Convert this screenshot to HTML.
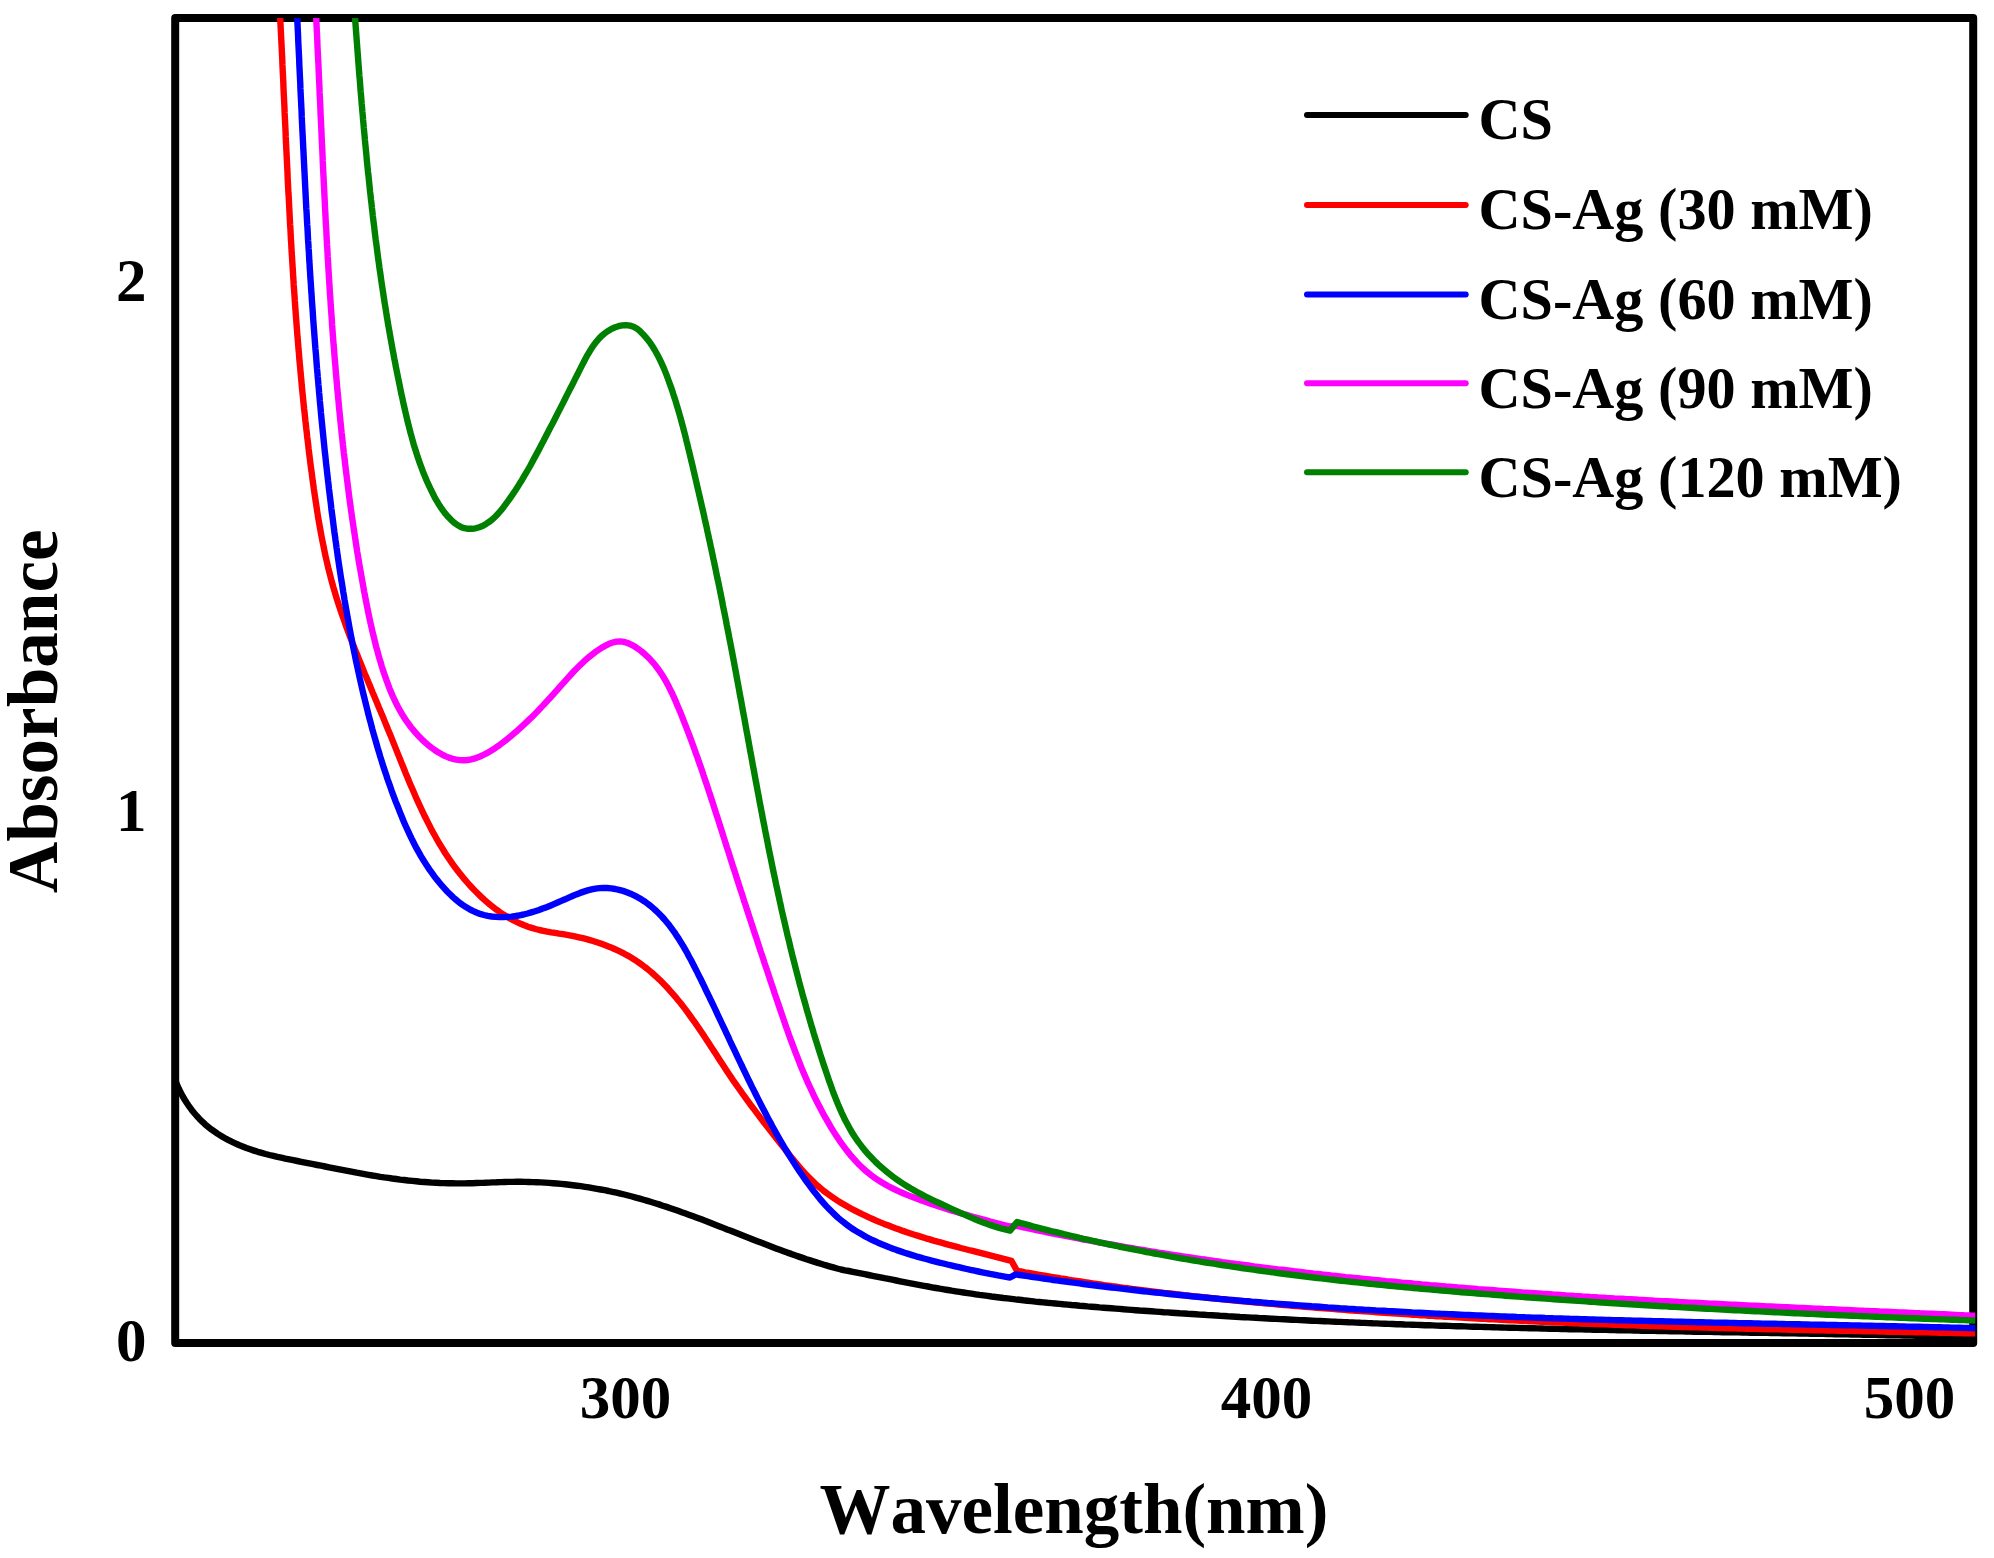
<!DOCTYPE html>
<html><head><meta charset="utf-8"><title>UV-Vis absorbance</title>
<style>
html,body{margin:0;padding:0;background:#fff;}
body{width:1994px;height:1558px;overflow:hidden;}
svg{display:block;}
text{font-family:"Liberation Serif","Times New Roman",serif;font-weight:bold;fill:#000;font-kerning:none;}
</style></head><body>
<svg width="1994" height="1558" viewBox="0 0 1994 1558">
<rect x="0" y="0" width="1994" height="1558" fill="#fff"/>
<defs><clipPath id="plot"><rect x="175.2" y="18.0" width="1800.0" height="1324.9"/></clipPath></defs>
<rect x="175.2" y="18.0" width="1798.0" height="1324.9" fill="none" stroke="#000" stroke-width="8.0" stroke-linejoin="round"/>
<g clip-path="url(#plot)" fill="none" stroke-width="6.4" stroke-linejoin="round" stroke-linecap="butt">
<path d="M171.0 1066.0L172.0 1070.0L173.2 1074.0L174.4 1077.9L175.9 1081.8L177.4 1085.6L179.1 1089.3L180.9 1092.9L182.8 1096.5L184.9 1100.0L187.0 1103.3L189.3 1106.7L191.7 1109.9L194.2 1113.0L196.8 1116.0L199.5 1118.9L202.3 1121.7L205.2 1124.4L208.3 1126.9L211.4 1129.4L214.6 1131.7L217.8 1133.9L221.2 1136.0L224.6 1138.0L228.1 1139.9L231.6 1141.7L235.3 1143.4L238.9 1145.0L242.6 1146.5L246.4 1148.0L250.1 1149.3L254.0 1150.6L257.8 1151.8L261.7 1152.9L265.6 1154.0L269.5 1155.0L273.4 1155.9L277.4 1156.9L281.3 1157.7L285.3 1158.6L289.3 1159.4L293.3 1160.2L297.3 1161.0L301.3 1161.8L305.2 1162.6L309.2 1163.4L313.2 1164.2L317.2 1165.0L321.1 1165.7L325.1 1166.5L329.0 1167.3L333.0 1168.1L336.9 1168.9L340.9 1169.7L344.8 1170.4L348.8 1171.2L352.7 1171.9L356.6 1172.7L360.6 1173.4L364.5 1174.1L368.5 1174.8L372.4 1175.5L376.4 1176.1L380.3 1176.8L384.3 1177.4L388.3 1177.9L392.2 1178.5L396.2 1179.0L400.2 1179.6L404.2 1180.0L408.2 1180.5L412.2 1180.9L416.2 1181.3L420.2 1181.7L424.2 1182.0L428.2 1182.3L432.2 1182.6L436.2 1182.8L440.2 1183.0L444.3 1183.1L448.3 1183.3L452.3 1183.3L456.3 1183.4L460.4 1183.4L464.4 1183.4L468.4 1183.3L472.4 1183.2L476.5 1183.0L480.5 1182.9L484.5 1182.8L488.6 1182.6L492.6 1182.4L496.6 1182.3L500.7 1182.1L504.7 1182.0L508.7 1181.9L512.8 1181.9L516.8 1181.8L520.8 1181.8L524.8 1181.9L528.9 1182.0L532.9 1182.1L536.9 1182.2L540.9 1182.4L544.9 1182.6L549.0 1182.9L553.0 1183.2L557.0 1183.5L561.0 1183.9L565.0 1184.3L569.0 1184.7L573.0 1185.2L577.0 1185.7L580.9 1186.2L584.9 1186.8L588.9 1187.4L592.8 1188.1L596.8 1188.8L600.7 1189.5L604.7 1190.2L608.6 1191.0L612.5 1191.9L616.5 1192.7L620.4 1193.6L624.3 1194.5L628.2 1195.5L632.0 1196.5L635.9 1197.6L639.8 1198.6L643.6 1199.7L647.5 1200.9L651.3 1202.0L655.2 1203.2L659.0 1204.4L662.8 1205.7L666.6 1206.9L670.4 1208.2L674.2 1209.5L678.0 1210.8L681.8 1212.2L685.6 1213.5L689.4 1214.9L693.2 1216.3L697.0 1217.7L700.7 1219.1L704.5 1220.6L708.3 1222.0L712.1 1223.5L715.8 1224.9L719.6 1226.4L723.3 1227.9L727.1 1229.4L730.9 1230.8L734.6 1232.3L738.4 1233.8L742.1 1235.3L745.9 1236.8L749.7 1238.2L753.4 1239.7L757.2 1241.2L760.9 1242.6L764.7 1244.1L768.5 1245.5L772.3 1247.0L776.0 1248.4L779.8 1249.8L783.6 1251.2L787.4 1252.6L791.2 1253.9L795.0 1255.3L798.8 1256.6L802.6 1257.9L806.4 1259.2L810.2 1260.4L814.0 1261.6L817.9 1262.9L821.7 1264.0L825.5 1265.2L829.4 1266.3L833.3 1267.4L837.1 1268.5L841.0 1269.5L841.0 1269.5L844.9 1270.3L848.9 1271.0L852.8 1271.8L856.8 1272.6L860.7 1273.4L864.7 1274.2L868.6 1275.0L872.6 1275.8L876.5 1276.6L880.5 1277.4L884.4 1278.2L888.4 1278.9L892.3 1279.7L896.3 1280.5L900.2 1281.3L904.2 1282.1L908.1 1282.8L912.1 1283.6L916.0 1284.3L920.0 1285.1L923.9 1285.8L927.9 1286.5L931.9 1287.3L935.8 1288.0L939.8 1288.7L943.8 1289.3L947.7 1290.0L951.7 1290.7L955.7 1291.3L959.6 1291.9L963.6 1292.5L967.6 1293.1L971.6 1293.7L975.6 1294.3L979.5 1294.9L983.5 1295.4L987.5 1295.9L991.5 1296.5L995.5 1297.0L999.5 1297.5L1003.5 1298.0L1007.4 1298.4L1011.4 1298.9L1015.4 1299.4L1019.4 1299.8L1023.4 1300.3L1027.4 1300.7L1031.4 1301.1L1035.4 1301.6L1039.4 1302.0L1043.4 1302.4L1047.4 1302.8L1051.4 1303.1L1055.4 1303.5L1059.4 1303.9L1063.4 1304.3L1067.5 1304.6L1071.5 1305.0L1075.5 1305.3L1079.5 1305.7L1083.5 1306.0L1087.5 1306.4L1091.5 1306.7L1095.5 1307.0L1099.5 1307.4L1103.5 1307.7L1107.5 1308.0L1111.5 1308.3L1115.6 1308.6L1119.6 1308.9L1123.6 1309.3L1127.6 1309.6L1131.6 1309.9L1135.6 1310.2L1139.6 1310.5L1143.6 1310.7L1147.6 1311.0L1151.7 1311.3L1155.7 1311.6L1159.7 1311.9L1163.7 1312.2L1167.7 1312.4L1171.7 1312.7L1175.7 1313.0L1179.8 1313.3L1183.8 1313.5L1187.8 1313.8L1191.8 1314.0L1195.8 1314.3L1199.8 1314.6L1203.8 1314.8L1207.9 1315.1L1211.9 1315.3L1215.9 1315.5L1219.9 1315.8L1223.9 1316.0L1227.9 1316.3L1231.9 1316.5L1236.0 1316.7L1240.0 1317.0L1244.0 1317.2L1248.0 1317.4L1252.0 1317.6L1256.0 1317.8L1260.1 1318.1L1264.1 1318.3L1268.1 1318.5L1272.1 1318.7L1276.1 1318.9L1280.1 1319.1L1284.2 1319.3L1288.2 1319.5L1292.2 1319.7L1296.2 1319.9L1300.2 1320.1L1304.3 1320.3L1308.3 1320.5L1312.3 1320.7L1316.3 1320.9L1320.3 1321.0L1324.3 1321.2L1328.4 1321.4L1332.4 1321.6L1336.4 1321.8L1340.4 1321.9L1344.4 1322.1L1348.5 1322.3L1352.5 1322.4L1356.5 1322.6L1360.5 1322.8L1364.5 1322.9L1368.6 1323.1L1372.6 1323.3L1376.6 1323.4L1380.6 1323.6L1384.6 1323.7L1388.7 1323.9L1392.7 1324.0L1396.7 1324.2L1400.7 1324.3L1404.7 1324.5L1408.8 1324.6L1412.8 1324.7L1416.8 1324.9L1420.8 1325.0L1424.9 1325.2L1428.9 1325.3L1432.9 1325.4L1436.9 1325.6L1440.9 1325.7L1445.0 1325.8L1449.0 1325.9L1453.0 1326.1L1457.0 1326.2L1461.1 1326.3L1465.1 1326.4L1469.1 1326.6L1473.1 1326.7L1477.1 1326.8L1481.2 1326.9L1485.2 1327.0L1489.2 1327.1L1493.2 1327.2L1497.3 1327.4L1501.3 1327.5L1505.3 1327.6L1509.3 1327.7L1513.4 1327.8L1517.4 1327.9L1521.4 1328.0L1525.4 1328.1L1529.4 1328.2L1533.5 1328.3L1537.5 1328.4L1541.5 1328.5L1545.5 1328.6L1549.6 1328.7L1553.6 1328.8L1557.6 1328.9L1561.6 1329.0L1565.7 1329.1L1569.7 1329.2L1573.7 1329.2L1577.7 1329.3L1581.8 1329.4L1585.8 1329.5L1589.8 1329.6L1593.8 1329.7L1597.9 1329.8L1601.9 1329.9L1605.9 1329.9L1609.9 1330.0L1613.9 1330.1L1618.0 1330.2L1622.0 1330.3L1626.0 1330.4L1630.0 1330.4L1634.1 1330.5L1638.1 1330.6L1642.1 1330.7L1646.1 1330.8L1650.2 1330.8L1654.2 1330.9L1658.2 1331.0L1662.2 1331.1L1666.3 1331.1L1670.3 1331.2L1674.3 1331.3L1678.3 1331.4L1682.4 1331.4L1686.4 1331.5L1690.4 1331.6L1694.4 1331.7L1698.5 1331.7L1702.5 1331.8L1706.5 1331.9L1710.5 1331.9L1714.5 1332.0L1718.6 1332.1L1722.6 1332.2L1726.6 1332.2L1730.6 1332.3L1734.7 1332.4L1738.7 1332.4L1742.7 1332.5L1746.7 1332.6L1750.8 1332.7L1754.8 1332.7L1758.8 1332.8L1762.8 1332.9L1766.9 1332.9L1770.9 1333.0L1774.9 1333.1L1778.9 1333.1L1783.0 1333.2L1787.0 1333.3L1791.0 1333.4L1795.0 1333.4L1799.0 1333.5L1803.1 1333.6L1807.1 1333.6L1811.1 1333.7L1815.1 1333.8L1819.2 1333.9L1823.2 1333.9L1827.2 1334.0L1831.2 1334.1L1835.2 1334.2L1839.3 1334.2L1843.3 1334.3L1847.3 1334.4L1851.3 1334.5L1855.4 1334.5L1859.4 1334.6L1863.4 1334.7L1867.4 1334.8L1871.4 1334.8L1875.5 1334.9L1879.5 1335.0L1883.5 1335.1L1887.5 1335.2L1891.6 1335.2L1895.6 1335.3L1899.6 1335.4L1903.6 1335.5L1907.6 1335.6L1911.7 1335.6L1915.7 1335.7L1919.7 1335.8L1923.7 1335.9L1927.7 1336.0L1931.8 1336.1L1935.8 1336.2L1939.8 1336.3L1943.8 1336.3L1947.8 1336.4L1951.9 1336.5L1955.9 1336.6L1959.9 1336.7L1963.9 1336.8L1967.9 1336.9L1972.0 1337.0L1976.0 1337.1L1980.0 1337.2" stroke="#000000"/>
<path d="M279.3 0.0L279.5 4.0L279.7 8.0L279.9 12.0L280.1 16.0L280.3 20.1L280.5 24.1L280.7 28.1L280.9 32.1L281.1 36.1L281.3 40.1L281.5 44.1L281.7 48.1L281.9 52.2L282.1 56.2L282.3 60.2L282.4 64.2L282.6 68.2L282.8 72.2L283.0 76.2L283.2 80.2L283.4 84.3L283.5 88.3L283.7 92.3L283.9 96.3L284.1 100.3L284.3 104.3L284.5 108.3L284.6 112.4L284.8 116.4L285.0 120.4L285.2 124.4L285.4 128.4L285.6 132.4L285.7 136.4L285.9 140.5L286.1 144.5L286.3 148.5L286.5 152.5L286.7 156.5L286.9 160.5L287.1 164.5L287.3 168.5L287.5 172.6L287.6 176.6L287.8 180.6L288.0 184.6L288.2 188.6L288.4 192.6L288.7 196.6L288.9 200.6L289.1 204.7L289.3 208.7L289.5 212.7L289.7 216.7L289.9 220.7L290.1 224.7L290.4 228.7L290.6 232.7L290.8 236.8L291.0 240.8L291.3 244.8L291.5 248.8L291.7 252.8L292.0 256.8L292.2 260.8L292.5 264.8L292.7 268.8L293.0 272.8L293.2 276.8L293.5 280.9L293.7 284.9L294.0 288.9L294.3 292.9L294.6 296.9L294.8 300.9L295.1 304.9L295.4 308.9L295.7 312.9L296.0 316.9L296.3 320.9L296.6 324.9L296.9 328.9L297.2 332.9L297.5 336.9L297.9 340.9L298.2 344.9L298.5 348.9L298.9 352.9L299.2 356.9L299.5 360.9L299.9 364.9L300.3 368.9L300.6 372.9L301.0 376.9L301.4 380.9L301.7 384.9L302.1 388.9L302.5 392.9L302.9 396.9L303.3 400.9L303.7 404.9L304.1 408.9L304.6 412.9L305.0 416.9L305.4 420.9L305.9 424.9L306.3 428.9L306.8 432.9L307.2 436.9L307.7 440.9L308.2 444.9L308.6 448.9L309.1 452.8L309.6 456.8L310.1 460.8L310.6 464.8L311.1 468.8L311.7 472.8L312.2 476.8L312.7 480.8L313.3 484.7L313.8 488.7L314.4 492.7L315.0 496.7L315.6 500.7L316.2 504.6L316.8 508.6L317.4 512.6L318.0 516.6L318.7 520.5L319.4 524.5L320.1 528.4L320.8 532.4L321.5 536.3L322.3 540.3L323.1 544.2L323.9 548.2L324.7 552.1L325.5 556.0L326.4 559.9L327.3 563.8L328.2 567.7L329.2 571.6L330.2 575.5L331.2 579.4L332.3 583.3L333.3 587.1L334.5 591.0L335.6 594.8L336.8 598.7L338.0 602.5L339.2 606.3L340.5 610.1L341.8 613.9L343.1 617.7L344.5 621.5L345.8 625.3L347.2 629.1L348.6 632.8L350.0 636.6L351.5 640.4L352.9 644.1L354.4 647.9L355.9 651.6L357.4 655.3L358.9 659.1L360.4 662.8L361.9 666.5L363.4 670.2L364.9 673.9L366.5 677.6L368.0 681.3L369.6 685.0L371.1 688.7L372.6 692.4L374.2 696.1L375.7 699.8L377.3 703.5L378.8 707.2L380.4 710.9L381.9 714.6L383.5 718.3L385.0 722.1L386.5 725.8L388.0 729.5L389.6 733.2L391.1 736.9L392.6 740.7L394.1 744.4L395.6 748.1L397.1 751.9L398.6 755.6L400.1 759.3L401.6 763.1L403.1 766.8L404.6 770.5L406.1 774.3L407.7 778.0L409.2 781.7L410.8 785.4L412.4 789.1L414.0 792.8L415.6 796.5L417.2 800.2L418.9 803.8L420.6 807.5L422.3 811.1L424.0 814.7L425.8 818.3L427.6 821.9L429.4 825.4L431.2 829.0L433.1 832.5L435.1 836.0L437.0 839.5L439.0 843.0L441.1 846.4L443.2 849.8L445.3 853.2L447.5 856.5L449.7 859.8L452.0 863.1L454.3 866.3L456.7 869.5L459.2 872.7L461.7 875.8L464.2 878.9L466.9 882.0L469.5 885.0L472.3 888.0L475.1 890.9L478.0 893.8L480.9 896.6L483.9 899.4L487.0 902.1L490.1 904.7L493.3 907.2L496.5 909.7L499.8 912.1L503.1 914.3L506.6 916.4L510.0 918.5L513.5 920.4L517.1 922.1L520.7 923.8L524.3 925.3L528.0 926.7L531.8 927.9L535.6 929.0L539.4 930.0L543.3 930.8L547.2 931.6L551.1 932.3L555.0 932.9L559.0 933.6L563.0 934.2L567.0 934.9L570.9 935.6L574.9 936.4L578.9 937.3L582.8 938.2L586.7 939.2L590.7 940.3L594.5 941.5L598.4 942.7L602.2 944.1L606.0 945.5L609.7 946.9L613.4 948.5L617.1 950.2L620.7 951.9L624.2 953.7L627.7 955.6L631.1 957.6L634.5 959.7L637.8 961.9L641.0 964.2L644.2 966.5L647.3 968.9L650.3 971.4L653.3 974.0L656.2 976.6L659.1 979.3L661.9 982.1L664.7 984.9L667.4 987.8L670.1 990.8L672.8 993.8L675.4 996.8L677.9 999.9L680.5 1003.0L682.9 1006.2L685.4 1009.4L687.8 1012.7L690.2 1016.0L692.6 1019.3L695.0 1022.6L697.3 1026.0L699.6 1029.3L701.9 1032.7L704.2 1036.1L706.4 1039.6L708.7 1043.0L710.9 1046.4L713.1 1049.9L715.4 1053.3L717.6 1056.7L719.8 1060.2L722.0 1063.6L724.3 1067.0L726.5 1070.4L728.7 1073.7L731.0 1077.1L733.2 1080.4L735.5 1083.7L737.8 1087.0L740.1 1090.2L742.4 1093.5L744.7 1096.7L747.0 1099.9L749.4 1103.1L751.7 1106.3L754.1 1109.4L756.5 1112.6L758.8 1115.7L761.2 1118.9L763.6 1122.0L766.0 1125.1L768.5 1128.3L770.9 1131.4L773.4 1134.5L775.8 1137.7L778.3 1140.8L780.8 1144.0L783.3 1147.1L785.8 1150.3L788.3 1153.4L790.8 1156.6L793.4 1159.8L795.9 1162.9L798.6 1166.0L801.2 1169.1L803.9 1172.1L806.7 1175.1L809.5 1178.0L812.3 1180.8L815.2 1183.6L818.2 1186.3L821.3 1188.9L824.4 1191.4L827.6 1193.8L830.9 1196.2L834.2 1198.4L837.5 1200.6L840.9 1202.7L844.4 1204.8L847.9 1206.8L851.4 1208.7L855.0 1210.6L858.5 1212.4L862.1 1214.2L865.8 1215.9L869.4 1217.6L873.1 1219.2L876.7 1220.8L880.4 1222.4L884.1 1223.9L887.9 1225.3L891.6 1226.8L895.4 1228.2L899.2 1229.5L902.9 1230.9L906.7 1232.2L910.6 1233.5L914.4 1234.7L918.2 1235.9L922.1 1237.1L925.9 1238.3L929.8 1239.4L933.6 1240.6L937.5 1241.7L941.4 1242.7L945.3 1243.8L949.2 1244.9L953.1 1245.9L957.0 1246.9L960.9 1248.0L964.8 1249.0L968.7 1250.0L972.6 1250.9L976.5 1251.9L980.4 1252.9L984.3 1253.9L988.2 1254.9L992.0 1255.9L995.9 1256.8L999.8 1257.8L1003.7 1258.8L1007.5 1259.8L1011.4 1260.8L1017.0 1270.8L1021.0 1271.5L1024.9 1272.3L1028.9 1273.0L1032.8 1273.7L1036.8 1274.4L1040.8 1275.1L1044.7 1275.7L1048.7 1276.4L1052.7 1277.1L1056.6 1277.7L1060.6 1278.4L1064.6 1279.0L1068.5 1279.7L1072.5 1280.3L1076.5 1280.9L1080.5 1281.5L1084.4 1282.1L1088.4 1282.7L1092.4 1283.3L1096.4 1283.9L1100.3 1284.5L1104.3 1285.1L1108.3 1285.6L1112.3 1286.2L1116.3 1286.7L1120.3 1287.3L1124.2 1287.8L1128.2 1288.3L1132.2 1288.9L1136.2 1289.4L1140.2 1289.9L1144.2 1290.4L1148.2 1290.9L1152.2 1291.4L1156.2 1291.9L1160.2 1292.4L1164.2 1292.9L1168.1 1293.3L1172.1 1293.8L1176.1 1294.3L1180.1 1294.7L1184.1 1295.2L1188.1 1295.6L1192.1 1296.1L1196.1 1296.5L1200.1 1296.9L1204.1 1297.3L1208.1 1297.8L1212.1 1298.2L1216.1 1298.6L1220.2 1299.0L1224.2 1299.4L1228.2 1299.8L1232.2 1300.2L1236.2 1300.6L1240.2 1301.0L1244.2 1301.4L1248.2 1301.7L1252.2 1302.1L1256.2 1302.5L1260.2 1302.9L1264.2 1303.2L1268.2 1303.6L1272.2 1303.9L1276.3 1304.3L1280.3 1304.7L1284.3 1305.0L1288.3 1305.3L1292.3 1305.7L1296.3 1306.0L1300.3 1306.4L1304.3 1306.7L1308.4 1307.0L1312.4 1307.3L1316.4 1307.7L1320.4 1308.0L1324.4 1308.3L1328.4 1308.6L1332.4 1308.9L1336.5 1309.3L1340.5 1309.6L1344.5 1309.9L1348.5 1310.2L1352.5 1310.5L1356.5 1310.8L1360.5 1311.1L1364.6 1311.4L1368.6 1311.6L1372.6 1311.9L1376.6 1312.2L1380.6 1312.5L1384.6 1312.8L1388.7 1313.1L1392.7 1313.3L1396.7 1313.6L1400.7 1313.9L1404.7 1314.1L1408.7 1314.4L1412.8 1314.7L1416.8 1314.9L1420.8 1315.2L1424.8 1315.4L1428.8 1315.7L1432.9 1315.9L1436.9 1316.2L1440.9 1316.4L1444.9 1316.7L1448.9 1316.9L1453.0 1317.1L1457.0 1317.4L1461.0 1317.6L1465.0 1317.8L1469.0 1318.1L1473.1 1318.3L1477.1 1318.5L1481.1 1318.7L1485.1 1318.9L1489.1 1319.2L1493.2 1319.4L1497.2 1319.6L1501.2 1319.8L1505.2 1320.0L1509.2 1320.2L1513.3 1320.4L1517.3 1320.6L1521.3 1320.8L1525.3 1321.0L1529.3 1321.2L1533.4 1321.4L1537.4 1321.6L1541.4 1321.7L1545.4 1321.9L1549.5 1322.1L1553.5 1322.3L1557.5 1322.5L1561.5 1322.6L1565.5 1322.8L1569.6 1323.0L1573.6 1323.2L1577.6 1323.3L1581.6 1323.5L1585.7 1323.6L1589.7 1323.8L1593.7 1324.0L1597.7 1324.1L1601.7 1324.3L1605.8 1324.4L1609.8 1324.6L1613.8 1324.7L1617.8 1324.9L1621.9 1325.0L1625.9 1325.2L1629.9 1325.3L1633.9 1325.4L1637.9 1325.6L1642.0 1325.7L1646.0 1325.8L1650.0 1326.0L1654.0 1326.1L1658.1 1326.2L1662.1 1326.4L1666.1 1326.5L1670.1 1326.6L1674.2 1326.7L1678.2 1326.8L1682.2 1327.0L1686.2 1327.1L1690.2 1327.2L1694.3 1327.3L1698.3 1327.4L1702.3 1327.5L1706.3 1327.6L1710.4 1327.8L1714.4 1327.9L1718.4 1328.0L1722.4 1328.1L1726.5 1328.2L1730.5 1328.3L1734.5 1328.4L1738.5 1328.5L1742.5 1328.6L1746.6 1328.7L1750.6 1328.8L1754.6 1328.9L1758.6 1329.0L1762.7 1329.1L1766.7 1329.2L1770.7 1329.2L1774.7 1329.3L1778.8 1329.4L1782.8 1329.5L1786.8 1329.6L1790.8 1329.7L1794.9 1329.8L1798.9 1329.9L1802.9 1330.0L1806.9 1330.0L1811.0 1330.1L1815.0 1330.2L1819.0 1330.3L1823.0 1330.4L1827.0 1330.5L1831.1 1330.5L1835.1 1330.6L1839.1 1330.7L1843.1 1330.8L1847.2 1330.9L1851.2 1330.9L1855.2 1331.0L1859.2 1331.1L1863.3 1331.2L1867.3 1331.3L1871.3 1331.3L1875.3 1331.4L1879.4 1331.5L1883.4 1331.6L1887.4 1331.7L1891.4 1331.7L1895.5 1331.8L1899.5 1331.9L1903.5 1332.0L1907.5 1332.0L1911.6 1332.1L1915.6 1332.2L1919.6 1332.3L1923.6 1332.4L1927.7 1332.4L1931.7 1332.5L1935.7 1332.6L1939.7 1332.7L1943.8 1332.8L1947.8 1332.8L1951.8 1332.9L1955.8 1333.0L1959.9 1333.1L1963.9 1333.2L1967.9 1333.2L1971.9 1333.3L1976.0 1333.4L1980.0 1333.5" stroke="#ff0000"/>
<path d="M296.4 0.0L296.6 4.0L296.8 8.0L297.0 12.0L297.1 16.0L297.3 20.0L297.5 24.0L297.7 28.0L297.9 32.1L298.1 36.1L298.2 40.1L298.4 44.1L298.6 48.1L298.8 52.1L299.0 56.1L299.2 60.1L299.3 64.1L299.5 68.1L299.7 72.1L299.9 76.1L300.1 80.2L300.3 84.2L300.4 88.2L300.6 92.2L300.8 96.2L301.0 100.2L301.2 104.2L301.4 108.2L301.6 112.2L301.7 116.2L301.9 120.3L302.1 124.3L302.3 128.3L302.5 132.3L302.7 136.3L302.9 140.3L303.1 144.3L303.3 148.3L303.5 152.3L303.7 156.3L303.9 160.3L304.1 164.4L304.3 168.4L304.5 172.4L304.7 176.4L304.9 180.4L305.1 184.4L305.3 188.4L305.5 192.4L305.7 196.4L305.9 200.4L306.1 204.4L306.3 208.5L306.6 212.5L306.8 216.5L307.0 220.5L307.2 224.5L307.5 228.5L307.7 232.5L307.9 236.5L308.1 240.5L308.4 244.5L308.6 248.5L308.9 252.5L309.1 256.5L309.3 260.6L309.6 264.6L309.8 268.6L310.1 272.6L310.3 276.6L310.6 280.6L310.9 284.6L311.1 288.6L311.4 292.6L311.7 296.6L311.9 300.6L312.2 304.6L312.5 308.6L312.8 312.6L313.0 316.6L313.3 320.6L313.6 324.6L313.9 328.6L314.2 332.6L314.5 336.6L314.8 340.6L315.1 344.6L315.4 348.6L315.8 352.6L316.1 356.6L316.4 360.6L316.7 364.6L317.0 368.6L317.4 372.6L317.7 376.6L318.1 380.6L318.4 384.6L318.8 388.6L319.1 392.6L319.5 396.6L319.8 400.6L320.2 404.6L320.6 408.6L320.9 412.6L321.3 416.6L321.7 420.6L322.1 424.6L322.5 428.6L322.9 432.6L323.3 436.6L323.7 440.5L324.1 444.5L324.5 448.5L324.9 452.5L325.4 456.5L325.8 460.5L326.2 464.5L326.7 468.5L327.1 472.5L327.6 476.5L328.0 480.4L328.5 484.4L328.9 488.4L329.4 492.4L329.9 496.4L330.4 500.4L330.9 504.3L331.3 508.3L331.8 512.3L332.4 516.3L332.9 520.3L333.4 524.3L333.9 528.2L334.4 532.2L335.0 536.2L335.5 540.2L336.1 544.1L336.6 548.1L337.2 552.1L337.7 556.1L338.3 560.0L338.9 564.0L339.5 568.0L340.1 571.9L340.7 575.9L341.3 579.9L342.0 583.8L342.6 587.8L343.2 591.8L343.9 595.7L344.5 599.7L345.2 603.6L345.9 607.6L346.6 611.5L347.3 615.5L348.0 619.4L348.7 623.4L349.4 627.3L350.2 631.3L350.9 635.2L351.7 639.2L352.4 643.1L353.2 647.0L354.0 651.0L354.8 654.9L355.6 658.8L356.4 662.8L357.3 666.7L358.1 670.6L359.0 674.5L359.8 678.4L360.7 682.3L361.6 686.3L362.5 690.2L363.4 694.1L364.4 698.0L365.3 701.9L366.3 705.8L367.3 709.7L368.2 713.6L369.2 717.5L370.3 721.3L371.3 725.2L372.3 729.1L373.4 733.0L374.5 736.8L375.6 740.7L376.7 744.5L377.8 748.4L379.0 752.2L380.1 756.1L381.3 759.9L382.5 763.7L383.7 767.6L385.0 771.4L386.3 775.2L387.5 779.0L388.9 782.8L390.2 786.5L391.5 790.3L392.9 794.1L394.3 797.8L395.7 801.6L397.2 805.3L398.7 809.0L400.2 812.8L401.7 816.5L403.2 820.2L404.8 823.9L406.4 827.5L408.1 831.2L409.8 834.8L411.5 838.4L413.3 842.0L415.1 845.6L417.0 849.1L419.0 852.6L420.9 856.1L423.0 859.5L425.1 862.9L427.3 866.3L429.5 869.6L431.9 872.9L434.2 876.2L436.7 879.4L439.3 882.5L441.9 885.7L444.6 888.7L447.4 891.7L450.3 894.6L453.2 897.4L456.3 900.0L459.4 902.6L462.6 904.9L465.9 907.1L469.3 909.1L472.8 910.9L476.4 912.5L480.1 913.9L483.9 915.0L487.7 915.9L491.6 916.5L495.6 916.9L499.6 917.1L503.6 917.1L507.6 916.9L511.7 916.6L515.7 916.0L519.6 915.3L523.6 914.5L527.5 913.5L531.3 912.4L535.1 911.3L539.0 910.0L542.7 908.6L546.5 907.2L550.2 905.7L553.9 904.1L557.6 902.5L561.3 900.9L565.1 899.3L568.8 897.6L572.5 896.0L576.3 894.4L580.1 892.9L583.9 891.6L587.7 890.4L591.6 889.4L595.5 888.6L599.4 888.1L603.3 887.9L607.3 888.0L611.3 888.4L615.2 889.0L619.1 889.9L623.0 890.9L626.8 892.2L630.5 893.7L634.1 895.4L637.6 897.2L641.0 899.1L644.2 901.2L647.4 903.5L650.5 905.9L653.4 908.4L656.3 911.0L659.1 913.7L661.8 916.5L664.5 919.5L667.0 922.5L669.5 925.6L671.9 928.8L674.3 932.1L676.5 935.5L678.8 938.9L680.9 942.4L683.1 945.9L685.1 949.4L687.2 953.0L689.1 956.7L691.1 960.3L693.0 964.0L694.9 967.7L696.8 971.4L698.6 975.1L700.5 978.8L702.3 982.5L704.1 986.1L705.8 989.8L707.6 993.5L709.4 997.1L711.1 1000.8L712.9 1004.4L714.6 1008.0L716.3 1011.7L718.0 1015.3L719.7 1018.9L721.4 1022.5L723.1 1026.1L724.8 1029.7L726.5 1033.3L728.2 1036.9L729.8 1040.5L731.5 1044.1L733.2 1047.7L734.9 1051.2L736.6 1054.8L738.3 1058.4L740.0 1062.0L741.7 1065.5L743.4 1069.1L745.1 1072.7L746.8 1076.2L748.5 1079.8L750.3 1083.3L752.0 1086.9L753.8 1090.4L755.6 1094.0L757.4 1097.6L759.2 1101.1L761.0 1104.7L762.8 1108.2L764.7 1111.8L766.5 1115.3L768.4 1118.9L770.3 1122.4L772.2 1126.0L774.2 1129.5L776.1 1133.0L778.1 1136.6L780.1 1140.1L782.2 1143.6L784.2 1147.1L786.3 1150.5L788.4 1154.0L790.6 1157.5L792.7 1160.9L794.9 1164.3L797.1 1167.7L799.4 1171.1L801.7 1174.5L804.0 1177.8L806.3 1181.1L808.7 1184.4L811.1 1187.7L813.6 1191.0L816.1 1194.1L818.6 1197.3L821.2 1200.4L823.8 1203.4L826.5 1206.4L829.3 1209.3L832.1 1212.1L835.0 1214.9L837.9 1217.6L840.9 1220.1L844.0 1222.6L847.1 1225.0L850.4 1227.3L853.6 1229.5L857.0 1231.6L860.4 1233.6L863.8 1235.6L867.3 1237.5L870.9 1239.3L874.5 1241.0L878.1 1242.7L881.8 1244.3L885.5 1245.8L889.2 1247.3L893.0 1248.7L896.8 1250.1L900.6 1251.4L904.5 1252.7L908.3 1253.9L912.2 1255.1L916.1 1256.3L920.0 1257.4L923.9 1258.5L927.8 1259.5L931.7 1260.6L935.6 1261.6L939.5 1262.6L943.4 1263.5L947.3 1264.5L951.2 1265.4L955.1 1266.3L959.0 1267.2L962.8 1268.1L966.7 1269.0L970.6 1269.9L974.5 1270.7L978.4 1271.5L982.3 1272.3L986.2 1273.1L990.1 1273.9L994.1 1274.6L998.0 1275.4L1002.0 1276.1L1006.0 1276.8L1010.0 1277.5L1015.7 1274.4L1019.7 1275.0L1023.7 1275.6L1027.7 1276.2L1031.6 1276.8L1035.6 1277.4L1039.6 1277.9L1043.6 1278.5L1047.6 1279.1L1051.6 1279.7L1055.6 1280.2L1059.6 1280.8L1063.5 1281.3L1067.5 1281.8L1071.5 1282.4L1075.5 1282.9L1079.5 1283.4L1083.5 1284.0L1087.5 1284.5L1091.5 1285.0L1095.5 1285.5L1099.5 1286.0L1103.5 1286.5L1107.5 1287.0L1111.5 1287.5L1115.5 1287.9L1119.5 1288.4L1123.5 1288.9L1127.5 1289.4L1131.5 1289.8L1135.5 1290.3L1139.5 1290.7L1143.5 1291.2L1147.5 1291.6L1151.5 1292.1L1155.5 1292.5L1159.5 1292.9L1163.5 1293.3L1167.5 1293.8L1171.5 1294.2L1175.5 1294.6L1179.5 1295.0L1183.5 1295.4L1187.5 1295.8L1191.5 1296.2L1195.5 1296.6L1199.5 1297.0L1203.5 1297.4L1207.5 1297.7L1211.5 1298.1L1215.5 1298.5L1219.6 1298.9L1223.6 1299.2L1227.6 1299.6L1231.6 1299.9L1235.6 1300.3L1239.6 1300.6L1243.6 1301.0L1247.6 1301.3L1251.6 1301.7L1255.6 1302.0L1259.7 1302.3L1263.7 1302.6L1267.7 1303.0L1271.7 1303.3L1275.7 1303.6L1279.7 1303.9L1283.7 1304.2L1287.7 1304.5L1291.8 1304.8L1295.8 1305.1L1299.8 1305.4L1303.8 1305.7L1307.8 1306.0L1311.8 1306.3L1315.9 1306.5L1319.9 1306.8L1323.9 1307.1L1327.9 1307.4L1331.9 1307.6L1335.9 1307.9L1340.0 1308.2L1344.0 1308.4L1348.0 1308.7L1352.0 1308.9L1356.0 1309.2L1360.1 1309.4L1364.1 1309.7L1368.1 1309.9L1372.1 1310.1L1376.1 1310.4L1380.2 1310.6L1384.2 1310.8L1388.2 1311.1L1392.2 1311.3L1396.2 1311.5L1400.3 1311.7L1404.3 1311.9L1408.3 1312.1L1412.3 1312.4L1416.3 1312.6L1420.4 1312.8L1424.4 1313.0L1428.4 1313.2L1432.4 1313.4L1436.5 1313.6L1440.5 1313.8L1444.5 1313.9L1448.5 1314.1L1452.6 1314.3L1456.6 1314.5L1460.6 1314.7L1464.6 1314.9L1468.6 1315.0L1472.7 1315.2L1476.7 1315.4L1480.7 1315.5L1484.7 1315.7L1488.8 1315.9L1492.8 1316.0L1496.8 1316.2L1500.8 1316.4L1504.9 1316.5L1508.9 1316.7L1512.9 1316.8L1517.0 1317.0L1521.0 1317.1L1525.0 1317.3L1529.0 1317.4L1533.1 1317.6L1537.1 1317.7L1541.1 1317.8L1545.1 1318.0L1549.2 1318.1L1553.2 1318.3L1557.2 1318.4L1561.2 1318.5L1565.3 1318.6L1569.3 1318.8L1573.3 1318.9L1577.4 1319.0L1581.4 1319.2L1585.4 1319.3L1589.4 1319.4L1593.5 1319.5L1597.5 1319.6L1601.5 1319.7L1605.6 1319.9L1609.6 1320.0L1613.6 1320.1L1617.6 1320.2L1621.7 1320.3L1625.7 1320.4L1629.7 1320.5L1633.8 1320.6L1637.8 1320.7L1641.8 1320.8L1645.8 1320.9L1649.9 1321.0L1653.9 1321.1L1657.9 1321.2L1662.0 1321.3L1666.0 1321.4L1670.0 1321.5L1674.0 1321.6L1678.1 1321.7L1682.1 1321.8L1686.1 1321.9L1690.2 1322.0L1694.2 1322.1L1698.2 1322.2L1702.2 1322.3L1706.3 1322.4L1710.3 1322.5L1714.3 1322.6L1718.4 1322.6L1722.4 1322.7L1726.4 1322.8L1730.4 1322.9L1734.5 1323.0L1738.5 1323.1L1742.5 1323.2L1746.6 1323.2L1750.6 1323.3L1754.6 1323.4L1758.6 1323.5L1762.7 1323.6L1766.7 1323.7L1770.7 1323.7L1774.7 1323.8L1778.8 1323.9L1782.8 1324.0L1786.8 1324.1L1790.9 1324.1L1794.9 1324.2L1798.9 1324.3L1802.9 1324.4L1807.0 1324.5L1811.0 1324.6L1815.0 1324.6L1819.0 1324.7L1823.1 1324.8L1827.1 1324.9L1831.1 1325.0L1835.2 1325.0L1839.2 1325.1L1843.2 1325.2L1847.2 1325.3L1851.3 1325.4L1855.3 1325.4L1859.3 1325.5L1863.3 1325.6L1867.4 1325.7L1871.4 1325.8L1875.4 1325.9L1879.4 1326.0L1883.5 1326.0L1887.5 1326.1L1891.5 1326.2L1895.5 1326.3L1899.6 1326.4L1903.6 1326.5L1907.6 1326.6L1911.6 1326.7L1915.7 1326.7L1919.7 1326.8L1923.7 1326.9L1927.7 1327.0L1931.7 1327.1L1935.8 1327.2L1939.8 1327.3L1943.8 1327.4L1947.8 1327.5L1951.9 1327.6L1955.9 1327.7L1959.9 1327.8L1963.9 1327.9L1967.9 1328.0L1972.0 1328.1L1976.0 1328.2L1980.0 1328.3" stroke="#0000ff"/>
<path d="M315.3 0.0L315.5 4.0L315.7 8.0L315.9 12.0L316.1 16.0L316.3 20.0L316.5 24.0L316.7 28.0L316.9 32.1L317.1 36.1L317.3 40.1L317.4 44.1L317.6 48.1L317.8 52.1L318.0 56.1L318.2 60.1L318.4 64.1L318.6 68.1L318.7 72.1L318.9 76.2L319.1 80.2L319.3 84.2L319.5 88.2L319.6 92.2L319.8 96.2L320.0 100.2L320.2 104.2L320.4 108.3L320.5 112.3L320.7 116.3L320.9 120.3L321.1 124.3L321.3 128.3L321.5 132.3L321.6 136.3L321.8 140.4L322.0 144.4L322.2 148.4L322.4 152.4L322.6 156.4L322.7 160.4L322.9 164.4L323.1 168.5L323.3 172.5L323.5 176.5L323.7 180.5L323.9 184.5L324.1 188.5L324.3 192.5L324.5 196.5L324.7 200.6L324.9 204.6L325.1 208.6L325.3 212.6L325.5 216.6L325.7 220.6L325.9 224.6L326.2 228.6L326.4 232.7L326.6 236.7L326.8 240.7L327.0 244.7L327.3 248.7L327.5 252.7L327.7 256.7L328.0 260.7L328.2 264.7L328.4 268.8L328.7 272.8L328.9 276.8L329.2 280.8L329.4 284.8L329.7 288.8L329.9 292.8L330.2 296.8L330.5 300.8L330.7 304.8L331.0 308.8L331.3 312.8L331.6 316.9L331.9 320.9L332.1 324.9L332.4 328.9L332.7 332.9L333.0 336.9L333.3 340.9L333.6 344.9L334.0 348.9L334.3 352.9L334.6 356.9L334.9 360.9L335.3 364.9L335.6 368.9L335.9 372.9L336.3 376.9L336.6 380.9L337.0 384.9L337.3 388.9L337.7 392.9L338.1 396.9L338.5 400.9L338.8 404.9L339.2 408.9L339.6 412.9L340.0 416.9L340.4 420.8L340.8 424.8L341.2 428.8L341.6 432.8L342.1 436.8L342.5 440.8L342.9 444.8L343.4 448.8L343.8 452.8L344.3 456.7L344.8 460.7L345.2 464.7L345.7 468.7L346.2 472.7L346.7 476.7L347.2 480.6L347.7 484.6L348.2 488.6L348.7 492.6L349.2 496.6L349.7 500.5L350.3 504.5L350.8 508.5L351.4 512.5L351.9 516.4L352.5 520.4L353.1 524.4L353.7 528.4L354.3 532.3L354.9 536.3L355.5 540.3L356.1 544.2L356.7 548.2L357.3 552.2L358.0 556.1L358.6 560.1L359.3 564.1L360.0 568.0L360.7 572.0L361.4 576.0L362.1 579.9L362.8 583.9L363.5 587.8L364.2 591.8L365.0 595.7L365.7 599.7L366.5 603.7L367.3 607.6L368.1 611.6L368.9 615.5L369.7 619.4L370.6 623.4L371.5 627.3L372.4 631.2L373.3 635.1L374.3 639.0L375.2 642.9L376.2 646.8L377.3 650.7L378.3 654.5L379.4 658.4L380.6 662.2L381.7 666.1L382.9 669.9L384.2 673.7L385.5 677.4L386.8 681.2L388.2 684.9L389.6 688.7L391.1 692.3L392.7 696.0L394.4 699.6L396.1 703.2L397.9 706.7L399.8 710.2L401.8 713.7L403.9 717.1L406.1 720.4L408.4 723.7L410.8 727.0L413.4 730.1L416.0 733.2L418.8 736.3L421.8 739.3L424.8 742.1L428.0 744.9L431.3 747.5L434.7 750.0L438.2 752.3L441.7 754.3L445.3 756.1L448.9 757.6L452.6 758.8L456.3 759.6L460.1 760.1L463.8 760.3L467.5 760.0L471.2 759.3L474.9 758.4L478.6 757.1L482.3 755.5L485.9 753.7L489.4 751.7L493.0 749.6L496.5 747.2L499.9 744.8L503.2 742.3L506.5 739.7L509.8 737.1L512.9 734.4L516.0 731.8L519.0 729.1L522.0 726.4L524.9 723.7L527.8 720.9L530.7 718.2L533.5 715.4L536.2 712.6L539.0 709.7L541.7 706.9L544.4 704.0L547.0 701.1L549.7 698.2L552.4 695.3L555.0 692.3L557.7 689.3L560.3 686.3L563.0 683.3L565.7 680.3L568.4 677.3L571.2 674.3L574.0 671.3L576.8 668.4L579.7 665.5L582.6 662.7L585.6 659.9L588.7 657.3L591.9 654.7L595.1 652.2L598.5 649.9L601.9 647.6L605.5 645.6L609.1 643.8L612.8 642.5L616.5 641.6L620.2 641.4L623.9 641.9L627.6 643.0L631.2 644.6L634.7 646.5L638.1 648.8L641.3 651.2L644.4 653.8L647.3 656.5L650.1 659.3L652.8 662.3L655.3 665.3L657.7 668.5L660.0 671.7L662.2 675.1L664.3 678.5L666.3 681.9L668.2 685.5L670.0 689.1L671.8 692.7L673.5 696.4L675.2 700.1L676.8 703.9L678.4 707.7L680.0 711.4L681.5 715.2L683.0 719.0L684.5 722.8L686.0 726.6L687.4 730.3L688.9 734.1L690.3 737.9L691.7 741.7L693.1 745.5L694.5 749.3L695.8 753.1L697.2 756.8L698.5 760.6L699.8 764.4L701.2 768.2L702.5 772.0L703.7 775.8L705.0 779.6L706.3 783.4L707.6 787.2L708.8 791.0L710.1 794.8L711.3 798.6L712.6 802.4L713.8 806.2L715.0 810.0L716.2 813.8L717.5 817.6L718.7 821.4L719.9 825.2L721.1 829.0L722.3 832.8L723.5 836.6L724.7 840.4L725.9 844.2L727.1 848.0L728.4 851.8L729.6 855.6L730.8 859.5L732.0 863.3L733.2 867.1L734.5 870.9L735.7 874.7L736.9 878.5L738.2 882.4L739.4 886.2L740.6 890.0L741.9 893.8L743.1 897.6L744.3 901.5L745.6 905.3L746.8 909.1L748.1 912.9L749.3 916.8L750.6 920.6L751.8 924.4L753.1 928.2L754.3 932.1L755.6 935.9L756.9 939.7L758.1 943.5L759.4 947.4L760.6 951.2L761.9 955.0L763.2 958.8L764.4 962.7L765.7 966.5L767.0 970.3L768.3 974.1L769.5 977.9L770.8 981.7L772.1 985.6L773.4 989.4L774.6 993.2L775.9 997.0L777.2 1000.8L778.5 1004.6L779.8 1008.4L781.1 1012.2L782.4 1016.0L783.7 1019.8L785.0 1023.6L786.3 1027.4L787.7 1031.2L789.0 1035.0L790.4 1038.8L791.8 1042.5L793.2 1046.3L794.6 1050.0L796.0 1053.8L797.5 1057.5L798.9 1061.2L800.4 1065.0L801.9 1068.7L803.5 1072.4L805.0 1076.0L806.6 1079.7L808.2 1083.4L809.9 1087.0L811.6 1090.6L813.3 1094.3L815.0 1097.9L816.8 1101.5L818.6 1105.0L820.5 1108.6L822.4 1112.2L824.3 1115.7L826.3 1119.2L828.3 1122.7L830.3 1126.2L832.4 1129.6L834.6 1133.1L836.8 1136.5L839.0 1139.8L841.3 1143.2L843.7 1146.4L846.1 1149.6L848.6 1152.8L851.1 1155.9L853.8 1158.9L856.5 1161.9L859.2 1164.7L862.1 1167.5L865.0 1170.2L868.1 1172.7L871.2 1175.2L874.4 1177.6L877.7 1179.8L881.1 1182.0L884.5 1184.0L888.0 1186.0L891.6 1187.8L895.2 1189.6L898.9 1191.4L902.6 1193.0L906.4 1194.6L910.1 1196.1L913.9 1197.6L917.8 1199.0L921.6 1200.4L925.4 1201.8L929.2 1203.1L933.0 1204.4L936.8 1205.7L940.6 1207.0L944.4 1208.2L948.2 1209.4L952.0 1210.6L955.8 1211.7L959.6 1212.9L963.5 1214.0L967.3 1215.1L971.1 1216.2L974.9 1217.3L978.8 1218.4L982.6 1219.4L986.5 1220.4L990.4 1221.5L994.3 1222.5L998.2 1223.5L1002.1 1224.5L1006.0 1225.5L1010.0 1226.5L1016.5 1225.8L1020.4 1226.7L1024.4 1227.5L1028.3 1228.4L1032.2 1229.2L1036.2 1230.0L1040.1 1230.8L1044.1 1231.7L1048.0 1232.5L1051.9 1233.3L1055.9 1234.1L1059.8 1234.9L1063.8 1235.6L1067.7 1236.4L1071.7 1237.2L1075.6 1237.9L1079.6 1238.7L1083.5 1239.5L1087.5 1240.2L1091.4 1240.9L1095.4 1241.7L1099.3 1242.4L1103.3 1243.1L1107.2 1243.8L1111.2 1244.5L1115.1 1245.2L1119.1 1245.9L1123.0 1246.6L1127.0 1247.3L1131.0 1248.0L1134.9 1248.7L1138.9 1249.3L1142.9 1250.0L1146.8 1250.6L1150.8 1251.3L1154.7 1251.9L1158.7 1252.6L1162.7 1253.2L1166.6 1253.8L1170.6 1254.5L1174.6 1255.1L1178.6 1255.7L1182.5 1256.3L1186.5 1256.9L1190.5 1257.5L1194.4 1258.1L1198.4 1258.7L1202.4 1259.3L1206.4 1259.8L1210.4 1260.4L1214.3 1261.0L1218.3 1261.5L1222.3 1262.1L1226.3 1262.6L1230.2 1263.2L1234.2 1263.7L1238.2 1264.3L1242.2 1264.8L1246.2 1265.3L1250.2 1265.8L1254.1 1266.4L1258.1 1266.9L1262.1 1267.4L1266.1 1267.9L1270.1 1268.4L1274.1 1268.9L1278.1 1269.4L1282.0 1269.8L1286.0 1270.3L1290.0 1270.8L1294.0 1271.3L1298.0 1271.7L1302.0 1272.2L1306.0 1272.7L1310.0 1273.1L1314.0 1273.6L1318.0 1274.0L1322.0 1274.5L1326.0 1274.9L1330.0 1275.3L1333.9 1275.8L1337.9 1276.2L1341.9 1276.6L1345.9 1277.1L1349.9 1277.5L1353.9 1277.9L1357.9 1278.3L1361.9 1278.7L1365.9 1279.1L1369.9 1279.5L1373.9 1279.9L1377.9 1280.3L1381.9 1280.7L1385.9 1281.1L1389.9 1281.4L1393.9 1281.8L1397.9 1282.2L1401.9 1282.6L1405.9 1282.9L1410.0 1283.3L1414.0 1283.7L1418.0 1284.0L1422.0 1284.4L1426.0 1284.7L1430.0 1285.1L1434.0 1285.4L1438.0 1285.8L1442.0 1286.1L1446.0 1286.5L1450.0 1286.8L1454.0 1287.1L1458.0 1287.5L1462.0 1287.8L1466.0 1288.1L1470.1 1288.4L1474.1 1288.7L1478.1 1289.1L1482.1 1289.4L1486.1 1289.7L1490.1 1290.0L1494.1 1290.3L1498.1 1290.6L1502.1 1290.9L1506.1 1291.2L1510.2 1291.5L1514.2 1291.8L1518.2 1292.1L1522.2 1292.4L1526.2 1292.6L1530.2 1292.9L1534.2 1293.2L1538.2 1293.5L1542.3 1293.8L1546.3 1294.0L1550.3 1294.3L1554.3 1294.6L1558.3 1294.8L1562.3 1295.1L1566.3 1295.4L1570.4 1295.6L1574.4 1295.9L1578.4 1296.1L1582.4 1296.4L1586.4 1296.6L1590.4 1296.9L1594.4 1297.1L1598.5 1297.4L1602.5 1297.6L1606.5 1297.9L1610.5 1298.1L1614.5 1298.4L1618.5 1298.6L1622.6 1298.8L1626.6 1299.1L1630.6 1299.3L1634.6 1299.5L1638.6 1299.8L1642.6 1300.0L1646.7 1300.2L1650.7 1300.4L1654.7 1300.7L1658.7 1300.9L1662.7 1301.1L1666.8 1301.3L1670.8 1301.5L1674.8 1301.7L1678.8 1302.0L1682.8 1302.2L1686.8 1302.4L1690.9 1302.6L1694.9 1302.8L1698.9 1303.0L1702.9 1303.2L1706.9 1303.4L1711.0 1303.6L1715.0 1303.8L1719.0 1304.0L1723.0 1304.2L1727.0 1304.4L1731.0 1304.6L1735.1 1304.8L1739.1 1305.0L1743.1 1305.2L1747.1 1305.4L1751.1 1305.6L1755.2 1305.8L1759.2 1306.0L1763.2 1306.2L1767.2 1306.4L1771.2 1306.5L1775.2 1306.7L1779.3 1306.9L1783.3 1307.1L1787.3 1307.3L1791.3 1307.5L1795.3 1307.7L1799.4 1307.9L1803.4 1308.0L1807.4 1308.2L1811.4 1308.4L1815.4 1308.6L1819.4 1308.8L1823.5 1309.0L1827.5 1309.1L1831.5 1309.3L1835.5 1309.5L1839.5 1309.7L1843.5 1309.9L1847.6 1310.0L1851.6 1310.2L1855.6 1310.4L1859.6 1310.6L1863.6 1310.8L1867.6 1310.9L1871.7 1311.1L1875.7 1311.3L1879.7 1311.5L1883.7 1311.6L1887.7 1311.8L1891.7 1312.0L1895.7 1312.2L1899.8 1312.4L1903.8 1312.5L1907.8 1312.7L1911.8 1312.9L1915.8 1313.1L1919.8 1313.3L1923.8 1313.4L1927.9 1313.6L1931.9 1313.8L1935.9 1314.0L1939.9 1314.2L1943.9 1314.3L1947.9 1314.5L1951.9 1314.7L1955.9 1314.9L1959.9 1315.1L1964.0 1315.3L1968.0 1315.4L1972.0 1315.6L1976.0 1315.8L1980.0 1316.0" stroke="#ff00ff"/>
<path d="M353.7 0.0L354.0 4.0L354.3 8.0L354.6 12.0L354.9 16.0L355.2 20.0L355.5 24.0L355.8 28.0L356.1 32.0L356.4 36.0L356.7 40.0L357.0 44.0L357.3 48.0L357.6 52.0L357.9 56.0L358.2 60.0L358.5 64.0L358.8 68.0L359.1 72.0L359.4 76.0L359.8 80.0L360.1 84.0L360.4 88.0L360.7 92.0L361.1 96.0L361.4 100.0L361.7 104.0L362.1 108.0L362.4 112.0L362.8 116.0L363.1 120.0L363.5 124.0L363.8 128.0L364.2 132.0L364.6 136.0L364.9 140.0L365.3 144.0L365.7 148.0L366.1 152.0L366.5 156.0L366.8 159.9L367.2 163.9L367.6 167.9L368.0 171.9L368.5 175.9L368.9 179.9L369.3 183.9L369.7 187.9L370.1 191.9L370.6 195.9L371.0 199.9L371.5 203.8L371.9 207.8L372.4 211.8L372.8 215.8L373.3 219.8L373.8 223.8L374.3 227.7L374.7 231.7L375.2 235.7L375.7 239.7L376.3 243.7L376.8 247.6L377.3 251.6L377.8 255.6L378.3 259.6L378.9 263.5L379.4 267.5L380.0 271.5L380.6 275.5L381.1 279.4L381.7 283.4L382.3 287.4L382.9 291.3L383.5 295.3L384.1 299.3L384.7 303.2L385.4 307.2L386.0 311.1L386.6 315.1L387.3 319.1L387.9 323.0L388.6 327.0L389.3 330.9L390.0 334.9L390.7 338.8L391.4 342.8L392.1 346.7L392.8 350.7L393.6 354.6L394.3 358.6L395.1 362.5L395.8 366.4L396.6 370.4L397.4 374.3L398.2 378.3L399.0 382.2L399.8 386.1L400.6 390.1L401.4 394.0L402.3 397.9L403.1 401.8L404.0 405.8L404.9 409.7L405.8 413.6L406.7 417.5L407.6 421.4L408.6 425.3L409.6 429.2L410.6 433.1L411.7 437.0L412.7 440.8L413.8 444.7L415.0 448.5L416.2 452.3L417.4 456.1L418.7 459.9L420.0 463.7L421.4 467.4L422.8 471.2L424.3 474.9L425.8 478.6L427.4 482.2L429.1 485.9L430.8 489.5L432.6 493.1L434.4 496.7L436.3 500.2L438.4 503.7L440.6 507.1L442.9 510.4L445.4 513.7L448.1 516.8L451.0 519.8L454.1 522.6L457.4 525.0L460.8 526.9L464.4 528.2L468.1 528.8L471.9 528.8L475.6 528.3L479.3 527.2L483.0 525.7L486.4 523.7L489.7 521.5L492.8 519.0L495.7 516.2L498.5 513.3L501.1 510.2L503.7 506.9L506.1 503.6L508.5 500.3L510.9 497.0L513.2 493.6L515.5 490.2L517.7 486.8L519.8 483.3L522.0 479.9L524.0 476.4L526.1 472.9L528.1 469.5L530.1 466.0L532.0 462.4L533.9 458.9L535.8 455.4L537.7 451.9L539.6 448.4L541.4 444.8L543.3 441.3L545.1 437.8L546.9 434.2L548.7 430.7L550.5 427.2L552.4 423.7L554.2 420.2L556.0 416.7L557.8 413.1L559.6 409.6L561.4 406.1L563.2 402.6L565.0 399.0L566.8 395.4L568.6 391.9L570.4 388.3L572.3 384.7L574.1 381.1L575.9 377.4L577.8 373.8L579.6 370.1L581.5 366.4L583.4 362.7L585.3 359.0L587.3 355.3L589.4 351.8L591.5 348.3L593.8 345.0L596.2 341.8L598.8 338.8L601.5 336.0L604.5 333.5L607.6 331.2L611.0 329.2L614.6 327.5L618.4 326.2L622.3 325.4L626.2 325.1L630.0 325.6L633.5 326.7L636.8 328.6L639.9 331.1L642.7 333.9L645.4 336.9L648.0 340.0L650.4 343.2L652.6 346.6L654.7 350.0L656.7 353.5L658.6 357.1L660.4 360.7L662.1 364.4L663.8 368.1L665.3 371.9L666.8 375.7L668.2 379.5L669.6 383.3L671.0 387.1L672.3 390.9L673.5 394.8L674.8 398.6L676.0 402.4L677.1 406.3L678.3 410.1L679.4 414.0L680.5 417.8L681.5 421.7L682.6 425.5L683.6 429.4L684.6 433.3L685.6 437.1L686.5 441.0L687.5 444.9L688.4 448.8L689.4 452.6L690.3 456.5L691.2 460.4L692.2 464.3L693.1 468.2L694.0 472.1L694.9 476.0L695.8 479.9L696.7 483.8L697.6 487.7L698.5 491.6L699.4 495.5L700.3 499.4L701.2 503.3L702.1 507.2L703.0 511.1L703.9 515.0L704.7 518.9L705.6 522.8L706.5 526.7L707.3 530.7L708.2 534.6L709.0 538.5L709.9 542.4L710.7 546.4L711.6 550.3L712.4 554.2L713.2 558.1L714.1 562.1L714.9 566.0L715.7 569.9L716.5 573.9L717.3 577.8L718.2 581.7L719.0 585.7L719.8 589.6L720.6 593.5L721.4 597.5L722.2 601.4L722.9 605.4L723.7 609.3L724.5 613.2L725.3 617.2L726.1 621.1L726.8 625.1L727.6 629.0L728.4 633.0L729.1 636.9L729.9 640.8L730.7 644.8L731.4 648.7L732.2 652.7L732.9 656.6L733.7 660.6L734.4 664.5L735.1 668.5L735.9 672.4L736.6 676.4L737.3 680.3L738.1 684.3L738.8 688.2L739.5 692.2L740.2 696.1L741.0 700.1L741.7 704.0L742.4 708.0L743.1 711.9L743.9 715.9L744.6 719.8L745.3 723.8L746.0 727.7L746.7 731.7L747.5 735.6L748.2 739.6L748.9 743.5L749.6 747.4L750.3 751.4L751.1 755.3L751.8 759.3L752.5 763.2L753.2 767.2L754.0 771.1L754.7 775.1L755.4 779.0L756.2 783.0L756.9 786.9L757.6 790.8L758.4 794.8L759.1 798.7L759.8 802.7L760.6 806.6L761.3 810.5L762.1 814.5L762.8 818.4L763.6 822.4L764.4 826.3L765.1 830.2L765.9 834.2L766.7 838.1L767.5 842.0L768.2 846.0L769.0 849.9L769.8 853.8L770.6 857.7L771.4 861.7L772.2 865.6L773.0 869.5L773.8 873.4L774.7 877.4L775.5 881.3L776.3 885.2L777.2 889.1L778.0 893.0L778.9 897.0L779.7 900.9L780.6 904.8L781.4 908.7L782.3 912.6L783.2 916.5L784.1 920.4L785.0 924.3L785.9 928.2L786.8 932.1L787.7 936.0L788.7 939.9L789.6 943.8L790.5 947.7L791.5 951.6L792.4 955.5L793.4 959.4L794.4 963.3L795.4 967.2L796.4 971.0L797.4 974.9L798.4 978.8L799.4 982.7L800.4 986.5L801.5 990.4L802.5 994.3L803.6 998.2L804.7 1002.0L805.8 1005.9L806.8 1009.8L808.0 1013.6L809.1 1017.5L810.2 1021.3L811.3 1025.2L812.5 1029.0L813.6 1032.9L814.8 1036.7L816.0 1040.6L817.2 1044.4L818.4 1048.3L819.6 1052.1L820.8 1055.9L822.1 1059.8L823.3 1063.6L824.6 1067.4L825.9 1071.2L827.2 1075.0L828.5 1078.9L829.8 1082.7L831.2 1086.5L832.5 1090.3L833.9 1094.0L835.4 1097.8L836.9 1101.5L838.4 1105.3L840.0 1108.9L841.6 1112.6L843.3 1116.2L845.0 1119.8L846.9 1123.3L848.8 1126.8L850.7 1130.3L852.8 1133.7L854.9 1137.0L857.2 1140.3L859.5 1143.5L861.9 1146.7L864.4 1149.8L867.0 1152.8L869.7 1155.8L872.5 1158.7L875.3 1161.6L878.2 1164.4L881.2 1167.1L884.2 1169.7L887.3 1172.3L890.5 1174.8L893.7 1177.2L897.0 1179.6L900.3 1181.9L903.7 1184.1L907.1 1186.2L910.5 1188.3L914.0 1190.3L917.5 1192.2L921.1 1194.1L924.6 1196.0L928.2 1197.8L931.8 1199.6L935.5 1201.3L939.1 1203.0L942.7 1204.7L946.4 1206.4L950.0 1208.1L953.7 1209.8L957.3 1211.4L961.0 1213.1L964.6 1214.7L968.3 1216.4L971.9 1217.9L975.6 1219.5L979.3 1221.0L983.1 1222.4L986.8 1223.8L990.6 1225.1L994.4 1226.4L998.3 1227.6L1002.1 1228.7L1006.0 1229.7L1010.0 1230.6L1017.1 1222.1L1021.0 1223.2L1024.9 1224.2L1028.8 1225.2L1032.7 1226.3L1036.6 1227.3L1040.5 1228.3L1044.4 1229.3L1048.3 1230.3L1052.2 1231.3L1056.1 1232.2L1060.0 1233.2L1063.9 1234.2L1067.9 1235.1L1071.8 1236.0L1075.7 1236.9L1079.6 1237.9L1083.5 1238.8L1087.5 1239.6L1091.4 1240.5L1095.3 1241.4L1099.2 1242.3L1103.2 1243.1L1107.1 1244.0L1111.0 1244.8L1115.0 1245.6L1118.9 1246.5L1122.8 1247.3L1126.8 1248.1L1130.7 1248.9L1134.7 1249.7L1138.6 1250.4L1142.6 1251.2L1146.5 1252.0L1150.4 1252.7L1154.4 1253.5L1158.3 1254.2L1162.3 1254.9L1166.3 1255.7L1170.2 1256.4L1174.2 1257.1L1178.1 1257.8L1182.1 1258.5L1186.0 1259.2L1190.0 1259.8L1194.0 1260.5L1197.9 1261.2L1201.9 1261.8L1205.9 1262.5L1209.8 1263.1L1213.8 1263.7L1217.8 1264.4L1221.7 1265.0L1225.7 1265.6L1229.7 1266.2L1233.7 1266.8L1237.6 1267.4L1241.6 1268.0L1245.6 1268.6L1249.6 1269.1L1253.6 1269.7L1257.5 1270.3L1261.5 1270.8L1265.5 1271.4L1269.5 1271.9L1273.5 1272.4L1277.5 1273.0L1281.4 1273.5L1285.4 1274.0L1289.4 1274.5L1293.4 1275.0L1297.4 1275.5L1301.4 1276.0L1305.4 1276.5L1309.4 1277.0L1313.4 1277.5L1317.4 1278.0L1321.4 1278.4L1325.4 1278.9L1329.4 1279.4L1333.3 1279.8L1337.3 1280.3L1341.3 1280.7L1345.3 1281.1L1349.3 1281.6L1353.3 1282.0L1357.3 1282.4L1361.4 1282.9L1365.4 1283.3L1369.4 1283.7L1373.4 1284.1L1377.4 1284.5L1381.4 1284.9L1385.4 1285.3L1389.4 1285.7L1393.4 1286.1L1397.4 1286.5L1401.4 1286.8L1405.4 1287.2L1409.4 1287.6L1413.4 1288.0L1417.4 1288.3L1421.5 1288.7L1425.5 1289.1L1429.5 1289.4L1433.5 1289.8L1437.5 1290.1L1441.5 1290.5L1445.5 1290.8L1449.5 1291.1L1453.6 1291.5L1457.6 1291.8L1461.6 1292.2L1465.6 1292.5L1469.6 1292.8L1473.6 1293.1L1477.6 1293.5L1481.7 1293.8L1485.7 1294.1L1489.7 1294.4L1493.7 1294.7L1497.7 1295.0L1501.7 1295.3L1505.7 1295.7L1509.8 1296.0L1513.8 1296.3L1517.8 1296.6L1521.8 1296.9L1525.8 1297.2L1529.8 1297.5L1533.9 1297.7L1537.9 1298.0L1541.9 1298.3L1545.9 1298.6L1549.9 1298.9L1553.9 1299.2L1558.0 1299.5L1562.0 1299.8L1566.0 1300.0L1570.0 1300.3L1574.0 1300.6L1578.0 1300.9L1582.1 1301.1L1586.1 1301.4L1590.1 1301.7L1594.1 1301.9L1598.1 1302.2L1602.2 1302.5L1606.2 1302.7L1610.2 1303.0L1614.2 1303.2L1618.2 1303.5L1622.2 1303.7L1626.3 1304.0L1630.3 1304.2L1634.3 1304.5L1638.3 1304.7L1642.3 1305.0L1646.4 1305.2L1650.4 1305.5L1654.4 1305.7L1658.4 1306.0L1662.4 1306.2L1666.4 1306.4L1670.5 1306.7L1674.5 1306.9L1678.5 1307.1L1682.5 1307.4L1686.5 1307.6L1690.6 1307.8L1694.6 1308.0L1698.6 1308.3L1702.6 1308.5L1706.6 1308.7L1710.7 1308.9L1714.7 1309.1L1718.7 1309.4L1722.7 1309.6L1726.7 1309.8L1730.8 1310.0L1734.8 1310.2L1738.8 1310.4L1742.8 1310.6L1746.8 1310.8L1750.9 1311.0L1754.9 1311.2L1758.9 1311.4L1762.9 1311.6L1766.9 1311.8L1771.0 1312.0L1775.0 1312.2L1779.0 1312.4L1783.0 1312.6L1787.0 1312.8L1791.1 1313.0L1795.1 1313.2L1799.1 1313.4L1803.1 1313.6L1807.1 1313.8L1811.2 1313.9L1815.2 1314.1L1819.2 1314.3L1823.2 1314.5L1827.2 1314.7L1831.3 1314.9L1835.3 1315.0L1839.3 1315.2L1843.3 1315.4L1847.3 1315.6L1851.4 1315.7L1855.4 1315.9L1859.4 1316.1L1863.4 1316.2L1867.4 1316.4L1871.5 1316.6L1875.5 1316.7L1879.5 1316.9L1883.5 1317.1L1887.5 1317.2L1891.6 1317.4L1895.6 1317.6L1899.6 1317.7L1903.6 1317.9L1907.6 1318.0L1911.7 1318.2L1915.7 1318.3L1919.7 1318.5L1923.7 1318.7L1927.7 1318.8L1931.8 1319.0L1935.8 1319.1L1939.8 1319.3L1943.8 1319.4L1947.8 1319.6L1951.9 1319.7L1955.9 1319.8L1959.9 1320.0L1963.9 1320.1L1967.9 1320.3L1972.0 1320.4L1976.0 1320.6L1980.0 1320.7" stroke="#008000"/>
</g>
<g>
<line x1="1307" y1="114.9" x2="1465.7" y2="114.9" stroke="#000000" stroke-width="6" stroke-linecap="round"/>
<text x="1478.6" y="139.4" font-size="58.2">CS</text>
<line x1="1307" y1="204.9" x2="1465.7" y2="204.9" stroke="#ff0000" stroke-width="6" stroke-linecap="round"/>
<text x="1478.6" y="229.4" font-size="58.2">CS-Ag (30 mM)</text>
<line x1="1307" y1="294.4" x2="1465.7" y2="294.4" stroke="#0000ff" stroke-width="6" stroke-linecap="round"/>
<text x="1478.6" y="318.9" font-size="58.2">CS-Ag (60 mM)</text>
<line x1="1307" y1="383.2" x2="1465.7" y2="383.2" stroke="#ff00ff" stroke-width="6" stroke-linecap="round"/>
<text x="1478.6" y="407.7" font-size="58.2">CS-Ag (90 mM)</text>
<line x1="1307" y1="472.3" x2="1465.7" y2="472.3" stroke="#008000" stroke-width="6" stroke-linecap="round"/>
<text x="1478.6" y="496.8" font-size="58.2">CS-Ag (120 mM)</text>
</g>
<g font-size="61" text-anchor="end">
<text x="146.4" y="300.6">2</text>
<text x="146.4" y="831">1</text>
<text x="146.4" y="1360.6">0</text>
</g>
<g font-size="61" text-anchor="middle">
<text x="625.6" y="1418.4">300</text>
<text x="1266.6" y="1418.4">400</text>
<text x="1909.6" y="1418.4">500</text>
</g>
<text x="1074" y="1533.2" font-size="71" text-anchor="middle">Wavelength(nm)</text>
<text transform="translate(57.3 711.3) rotate(-90)" font-size="71.2" text-anchor="middle">Absorbance</text>
</svg>
</body></html>
